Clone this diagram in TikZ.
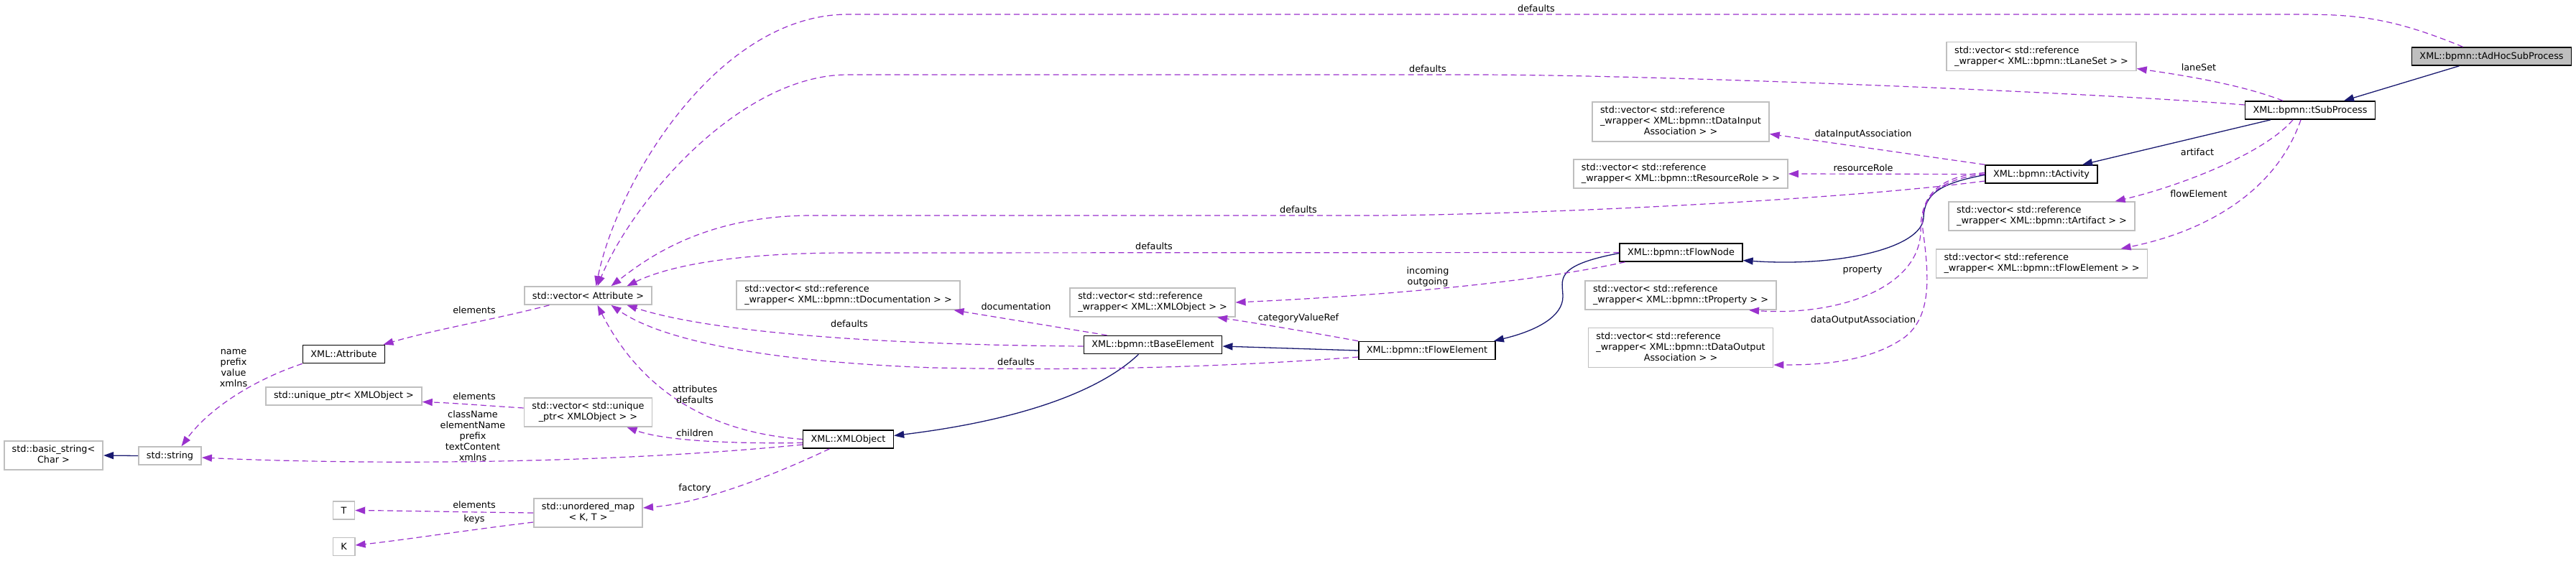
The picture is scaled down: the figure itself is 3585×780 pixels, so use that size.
\documentclass[tikz,border=0pt]{standalone}
\usepackage{fontspec}
\setmainfont{DejaVu Sans}
\usetikzlibrary{arrows.meta}
\definecolor{usepurple}{HTML}{9A32CD}
\definecolor{inhblue}{HTML}{191970}
\definecolor{boxgray}{HTML}{BFBFBF}
\newcommand{\twolines}[2]{\begin{tabular}{@{}l@{}}#1\\\multicolumn{1}{@{}c@{}}{#2}\end{tabular}}
\newcommand{\threelines}[3]{\begin{tabular}{@{}l@{}}#1\\#2\\\multicolumn{1}{@{}c@{}}{#3}\end{tabular}}
\tikzset{
    clsbox/.style={draw=black, fill=white, line width=1.6pt, minimum height=25pt, inner xsep=11pt, inner ysep=5pt},
    extbox/.style={clsbox, draw=boxgray},
    curbox/.style={clsbox, fill=boxgray},
    inherit/.style={draw=inhblue, line width=1.3pt, -{Triangle[length=14pt,width=10pt]}},
    usage/.style={draw=usepurple, line width=1.2pt, dash pattern=on 8pt off 5pt, -{Triangle[length=14pt,width=10pt]}},
    elabel/.style={inner sep=0pt, align=center, text=black}
}

\begin{document}
\begin{tikzpicture}[x=1pt,y=-1pt,font=\fontsize{12.8}{15}\selectfont]
    \fill[white] (0,0) rectangle (3585,780);
    \useasboundingbox (0,0) rectangle (3585,780);

    % classes
    \node[curbox] (adhoc)    at (3467.5,78.5)  {XML::bpmn::tAdHocSubProcess};
    \node[clsbox] (sub)      at (3215,153.5)   {XML::bpmn::tSubProcess};
    \node[clsbox] (act)      at (2841,242.5)   {XML::bpmn::tActivity};
    \node[clsbox] (flownode) at (2339.5,351.5) {XML::bpmn::tFlowNode};
    \node[clsbox] (flowelem) at (1986,488)     {XML::bpmn::tFlowElement};
    \node[clsbox] (base)     at (1604.5,480)   {XML::bpmn::tBaseElement};
    \node[clsbox] (xmlobj)   at (1180.5,611.5) {XML::XMLObject};
    \node[clsbox] (attr)     at (478.5,493)    {XML::Attribute};

    % member types
    \node[extbox] (laneset)  at (2841,78.5)  {\twolines{std::vector< std::reference}{\_wrapper< XML::bpmn::tLaneSet > >}};
    \node[extbox] (artifact) at (2841.5,301) {\twolines{std::vector< std::reference}{\_wrapper< XML::bpmn::tArtifact > >}};
    \node[extbox] (flowel)   at (2841.5,367) {\twolines{std::vector< std::reference}{\_wrapper< XML::bpmn::tFlowElement > >}};
    \node[extbox] (datain)   at (2339,169.5) {\threelines{std::vector< std::reference}{\_wrapper< XML::bpmn::tDataInput}{Association > >}};
    \node[extbox] (resrole)  at (2339,242)   {\twolines{std::vector< std::reference}{\_wrapper< XML::bpmn::tResourceRole > >}};
    \node[extbox] (prop)     at (2339,411)   {\twolines{std::vector< std::reference}{\_wrapper< XML::bpmn::tProperty > >}};
    \node[extbox] (dataout)  at (2339,484)   {\threelines{std::vector< std::reference}{\_wrapper< XML::bpmn::tDataOutput}{Association > >}};
    \node[extbox] (xmlref)   at (1604,421)   {\twolines{std::vector< std::reference}{\_wrapper< XML::XMLObject > >}};
    \node[extbox] (doc)      at (1180.5,411) {\twolines{std::vector< std::reference}{\_wrapper< XML::bpmn::tDocumentation > >}};
    \node[extbox] (attrvec)  at (818.5,411.5) {std::vector< Attribute >};
    \node[extbox] (uptrvec)  at (818.5,574)  {\twolines{std::vector< std::unique}{\_ptr< XMLObject > >}};
    \node[extbox] (umap)     at (818.5,714)  {\twolines{std::unordered\_map}{< K, T >}};
    \node[extbox] (uptr)     at (478.5,551.5) {std::unique\_ptr< XMLObject >};
    \node[extbox] (tT)       at (478.5,710.5) {T};
    \node[extbox] (tK)       at (478.5,761)  {K};
    \node[extbox] (str)      at (236.5,634.5) {std::string};
    \node[extbox] (bstr)     at (74.5,634)   {\twolines{std::basic\_string<}{Char >}};

    % inheritance
    \draw[inherit] ([xshift=-45pt]adhoc.south) -- ([xshift=47pt]sub.north);
    \draw[inherit] ([xshift=-55pt]sub.south) -- ([xshift=57pt]act.north);
    \draw[inherit] ([yshift=-1pt]act.west) .. controls (2700,255) and (2678,270) .. (2677,303)
        .. controls (2675,345) and (2560,372) .. ([yshift=-11pt]flownode.east);
    \draw[inherit] ([yshift=-1pt]flownode.west) .. controls (2160,370) and (2175,390) .. (2175,413)
        .. controls (2175,440) and (2140,460) .. ([xshift=-3pt]flowelem.north east);
    \draw[inherit] (flowelem.west) -- ([yshift=-2pt]base.east);
    \draw[inherit] ([xshift=-20pt]base.south) .. controls (1530,545) and (1420,585) .. ([yshift=5pt]xmlobj.east);
    \draw[inherit] (str.west) -- (bstr.east);

    % members
    \draw[usage] ([xshift=-40pt]adhoc.north) .. controls (3330,25) and (3280,20) .. (3200,20) -- (1180,20)
        .. controls (1000,20) and (860,250) .. ([xshift=11pt]attrvec.north)
        node[elabel] at (2138,12) {defaults};
    \draw[usage] ([yshift=7.5pt]sub.west) .. controls (2900,128) and (2300,104) .. (2050,104) -- (1180,104)
        .. controls (1030,104) and (880,280) .. ([xshift=13pt]attrvec.north)
        node[elabel] at (1987,96) {defaults};
    \draw[usage] ([xshift=-38pt]sub.north) .. controls (3120,118) and (3040,105) .. ([yshift=-17pt]laneset.east)
        node[elabel] at (3060,94) {laneSet};
    \draw[usage] ([xshift=-24pt]sub.south) .. controls (3150,215) and (3030,260) .. ([xshift=102pt]artifact.north)
        node[elabel] at (3058,212) {artifact};
    \draw[usage] ([xshift=-13pt]sub.south) .. controls (3170,260) and (3080,320) .. ([xshift=110pt]flowel.north)
        node[elabel] at (3060,270) {flowElement};
    \draw[usage] (act.north west) -- ([yshift=-17pt]datain.east)
        node[elabel] at (2593,187) {dataInputAssociation};
    \draw[usage] (act.west) -- (resrole.east)
        node[elabel] at (2593,234) {resourceRole};
    \draw[usage] ([yshift=-9.5pt]act.west) .. controls (2550,280) and (2100,300) .. (1900,300) -- (1130,300)
        .. controls (980,300) and (900,360) .. ([xshift=32pt]attrvec.north)
        node[elabel] at (1807,292) {defaults};
    \draw[usage] ([yshift=2pt]act.west) .. controls (2700,245) and (2673,270) .. (2673,320)
        .. controls (2673,400) and (2560,440) .. ([xshift=95pt]prop.south)
        node[elabel] at (2592,376) {property};
    \draw[usage] (act.west) .. controls (2690,250) and (2672,280) .. (2676,320)
        .. controls (2684,380) and (2690,440) .. (2650,470)
        .. controls (2600,505) and (2530,508) .. ([yshift=-24pt]dataout.east)
        node[elabel] at (2593,446) {dataOutputAssociation};
    \draw[usage] (flownode.west) -- (1180,352) .. controls (1000,352) and (920,375) .. ([xshift=54pt]attrvec.north)
        node[elabel] at (1606,343) {defaults};
    \draw[usage] ([xshift=-78pt]flownode.south) .. controls (2100,400) and (1850,415) .. (xmlref.east)
        node[elabel] at (1987,385) {incoming\\outgoing};
    \draw[usage] (flowelem.north west) .. controls (1820,462) and (1750,450) .. ([xshift=90pt]xmlref.south)
        node[elabel] at (1807,443) {categoryValueRef};
    \draw[usage] ([yshift=-9pt]flowelem.west) .. controls (1650,515) and (1450,515) .. (1300,512)
        .. controls (1100,505) and (930,480) .. ([xshift=32pt]attrvec.south)
        node[elabel] at (1414,504) {defaults};
    \draw[usage] ([xshift=-64pt]base.north) -- ([xshift=147pt]doc.south)
        node[elabel] at (1414,427) {documentation};
    \draw[usage] ([yshift=-2pt]base.west) .. controls (1200,480) and (980,460) .. ([xshift=54pt]attrvec.south)
        node[elabel] at (1182,451) {defaults};
    \draw[usage] (xmlobj.west) .. controls (960,600) and (880,520) .. ([xshift=13pt]attrvec.south)
        node[elabel] at (967,549) {attributes\\defaults};
    \draw[usage] ([yshift=-5pt]xmlobj.west) .. controls (1000,618) and (920,612) .. ([xshift=54pt]uptrvec.south)
        node[elabel] at (967,603) {children};
    \draw[usage] ([yshift=-7.5pt]xmlobj.west) .. controls (800,650) and (450,645) .. ([yshift=-2.5pt]str.east)
        node[elabel] at (658,607) {className\\elementName\\prefix\\textContent\\xmlns};
    \draw[usage] ([xshift=-26pt]xmlobj.south) .. controls (1080,660) and (980,700) .. ([yshift=7pt]umap.east)
        node[elabel] at (967,680) {factory};
    \draw[usage] ([xshift=-54pt]attrvec.south) .. controls (700,442) and (600,460) .. ([xshift=55pt]attr.north)
        node[elabel] at (660,432) {elements};
    \draw[usage] ([yshift=6pt]uptrvec.west) .. controls (680,565) and (630,561) .. ([yshift=-8pt]uptr.east)
        node[elabel] at (660,552) {elements};
    \draw[usage] (umap.west) .. controls (650,713) and (560,711) .. (tT.east)
        node[elabel] at (660,703) {elements};
    \draw[usage] ([yshift=-13pt]umap.west) .. controls (650,738) and (560,752) .. ([yshift=2pt]tK.east)
        node[elabel] at (660,723) {keys};
    \draw[usage] (attr.south west) .. controls (350,530) and (290,570) .. ([xshift=16pt]str.north)
        node[elabel] at (325,512) {name\\prefix\\value\\xmlns};
\end{tikzpicture}
\end{document}
